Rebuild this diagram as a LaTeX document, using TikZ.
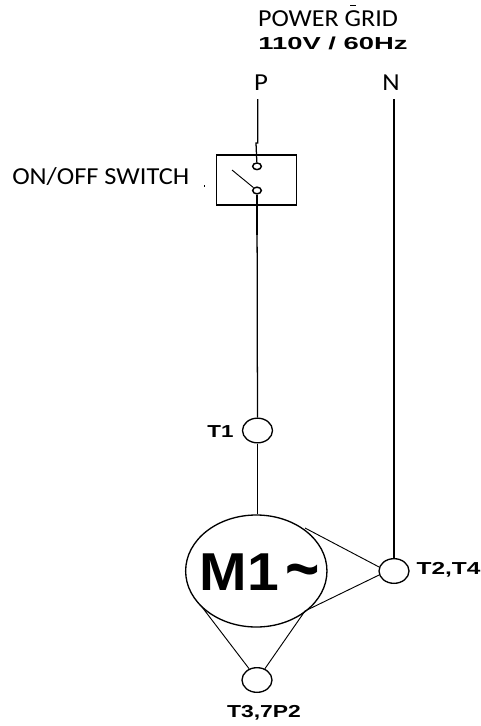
\documentclass[tikz,border=0pt]{standalone}
\usepackage{fontspec}
\usetikzlibrary{shapes.geometric}
\setmainfont{Carlito}
\newfontfamily\arialb{Liberation Sans}
\tikzset{
  wire/.style={draw=black,line width=0.95pt},
  thin wire/.style={draw=black,line width=0.7pt},
  term/.style={ellipse,draw=black,line width=1pt,fill=white,inner sep=0pt,minimum width=22.5bp,minimum height=18.5bp},
  contact/.style={ellipse,draw=black,line width=1.1pt,fill=white,inner sep=0pt,minimum width=6.5bp,minimum height=5bp},
  lab/.style={inner sep=0pt,text=black,font=\fontsize{18.3bp}{20bp}\selectfont},
  blab/.style={inner sep=0pt,text=black,font=\arialb\bfseries\fontsize{13bp}{15bp}\selectfont}
}
\begin{document}
\begin{tikzpicture}[x=0.75bp,y=-0.75bp]
\useasboundingbox (0,0) rectangle (481,726);
\node[lab] (grid) at (328,19) {\scalebox{1.07}[1]{POWER GRID}};
\node[blab] (volt) at (333,43.5) {\scalebox{1.58}[1]{110V / 60Hz}};
\node[lab] (p) at (261,83) {\scalebox{1.1}[1]{P}};
\node[lab] (n) at (391,83) {\scalebox{1.1}[1]{N}};
\node[lab,anchor=west] (sw) at (12,177) {\scalebox{1.08}[1]{ON/OFF SWITCH}};
\node[draw=black,line width=1.1pt,minimum width=60bp,minimum height=37.3bp,inner sep=0pt] (box) at (256.7,180) {};
\coordinate (ptop) at (257.7,99);
\coordinate (pbend) at (257.7,143);
\coordinate (pbend2) at (256,143);
\coordinate (thick) at (257,235);
\coordinate (nt) at (394,99);
\coordinate (blade) at (232,170);
\node[contact] (k1) at (257,166.3) {};
\node[contact] (k2) at (257,190.5) {};
\draw[wire] (ptop) -- (pbend) -- (pbend2) -- (k1);
\draw[thin wire] (blade) -- (k2);
\node[term] (t1) at (257.5,430.5) {};
\node[term] (t2) at (394,571) {};
\node[term] (t3) at (257,680) {};
\node[ellipse,draw=black,line width=1pt,fill=white,minimum width=106bp,minimum height=84bp,inner sep=0pt] (m) at (256.3,571) {};
\node[inner sep=0pt,anchor=base,font=\arialb\bfseries\fontsize{40bp}{44bp}\selectfont] (mlab) at (260,590) {\scalebox{1.07}[1]{M1}\kern5pt\raisebox{-1.5pt}{\scalebox{1.1}[1.3]{\textasciitilde}}};
\draw[wire] (k2) -- (t1);
\draw[line width=2pt] (k2) -- (thick);
\draw[wire] (t1) -- (t1 |- m.north);
\draw[wire] (nt) -- (t2);
\coordinate (mur) at (305,528);
\coordinate (mlr) at (305,611);
\coordinate (mll) at (202,607);
\draw[thin wire] (t2.165) -- (mur);
\draw[thin wire] (t2.195) -- (mlr);
\draw[thin wire] (t3.125) -- (mll);
\draw[thin wire] (t3.55) -- (mlr);
\node[blab] (lt1) at (220.5,431.5) {\scalebox{1.29}[1]{T1}};
\node[blab] (lt2) at (448.5,570) {\scalebox{1.41}[1]{T2,T4}};
\node[blab] (lt3) at (264,713) {\scalebox{1.32}[1]{T3,7P2}};
\fill[black] (203.5,184.5) rectangle (205,187);
\fill[black] (350,4.6) rectangle (356,5.6);
\end{tikzpicture}
\end{document}
